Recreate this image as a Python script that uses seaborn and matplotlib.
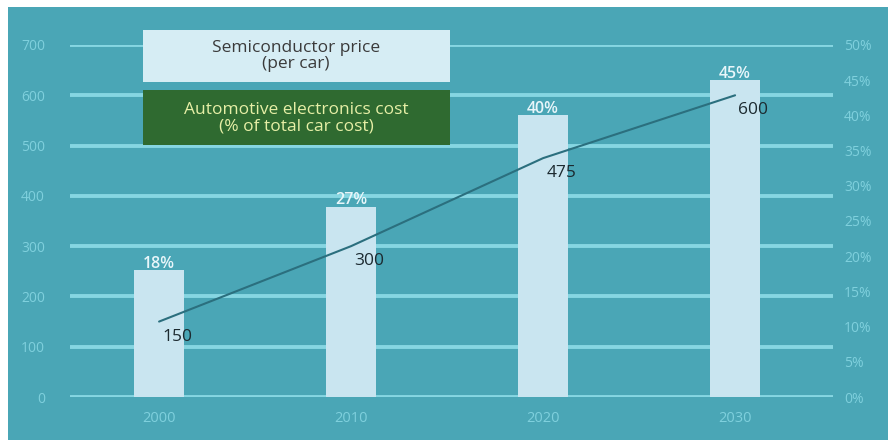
import matplotlib
matplotlib.use("Agg")
import matplotlib.pyplot as plt
import seaborn as sns
import pandas as pd
from matplotlib.patches import Rectangle

years = ["2000", "2010", "2020", "2030"]
semiconductor_price = [150, 300, 475, 600]
electronics_share = [18, 27, 40, 45]
left_ticks = [0, 100, 200, 300, 400, 500, 600, 700]
right_ticks = [0, 5, 10, 15, 20, 25, 30, 35, 40, 45, 50]

df = pd.DataFrame({"year": years, "price": semiconductor_price, "share": electronics_share})

sns.set_theme(style="white")
plt.rcParams["font.family"] = ["Open Sans", "DejaVu Sans"]

BG = "#4aa6b6"
GRID = "#86d6e2"
BAR = "#c9e5f0"
TICK = "#7fd0dd"

fig = plt.figure(figsize=(8.88, 4.40), dpi=100, facecolor="white")
fig.patches.append(Rectangle((8 / 888, 0), 1 - 8 / 888, 1 - 7 / 440,
                             transform=fig.transFigure, facecolor=BG,
                             edgecolor="none", zorder=-10))

ax = fig.add_axes([70 / 888, 43 / 440, 763 / 888, 352 / 440])
ax.set_facecolor("none")
ax2 = ax.twinx()
ax2.set_zorder(0)
ax.set_zorder(1)
ax.patch.set_visible(False)

# bars on the percentage axis
sns.barplot(data=df, x="year", y="share", ax=ax2, color=BAR, width=0.26,
            saturation=1, edgecolor="none")
ax2.set_ylim(0, 50)
ax2.set_yticks(right_ticks)
ax2.set_yticklabels([f"{t}%" for t in right_ticks], color=TICK, fontsize=10)
ax2.set_ylabel("")
for i, v in enumerate(electronics_share):
    ax2.text(i, v - 0.2, f"{v}%", ha="center", va="bottom", color="#e8f6fa",
             fontsize=11.5, fontweight="semibold")

# grid lines behind bars
for t in left_ticks:
    ax2.axhline(t / 700 * 50, color=GRID, lw=2.8, zorder=0)

# line on the price axis
sns.lineplot(data=df, x="year", y="price", ax=ax, color="#2b6f7e", lw=1.5,
             sort=False)
for i, v in enumerate(semiconductor_price):
    ax.text(i + 0.095, v - 30, str(v), ha="center", va="center",
            color="#1c2a30", fontsize=12.5)

ax.set_ylim(0, 700)
ax.set_yticks(left_ticks)
ax.set_yticklabels([str(t) for t in left_ticks], color=TICK, fontsize=10)
ax.set_xlim(-0.464, 3.51)
ax2.set_xlim(-0.464, 3.51)
ax.set_xlabel("")
ax.set_ylabel("")
ax2.set_xlabel("")
ax.tick_params(axis="x", colors=TICK, labelsize=10.5, length=0, pad=10)
ax.tick_params(axis="y", length=0, pad=18)
ax2.tick_params(axis="y", length=0, pad=8)
for a in (ax, ax2):
    for s in a.spines.values():
        s.set_visible(False)

# legend-like boxes
fig.patches.append(Rectangle((143 / 888, 1 - 82 / 440), 307 / 888, 52 / 440,
                             transform=fig.transFigure, facecolor="#d6edf4",
                             edgecolor="none", zorder=5))
fig.text(296 / 888, 1 - 56 / 440, "Semiconductor price\n(per car)", ha="center",
         va="center", color="#3a3a3a", fontsize=12.5, linespacing=1.05, zorder=6)
fig.patches.append(Rectangle((143 / 888, 1 - 145 / 440), 307 / 888, 55 / 440,
                             transform=fig.transFigure, facecolor="#2f6a30",
                             edgecolor="none", zorder=5))
fig.text(296 / 888, 1 - 118 / 440, "Automotive electronics cost\n(% of total car cost)",
         ha="center", va="center", color="#e6efa6", fontsize=12.5,
         linespacing=1.05, zorder=6)

fig.savefig("out.png", dpi=100, facecolor="white")
